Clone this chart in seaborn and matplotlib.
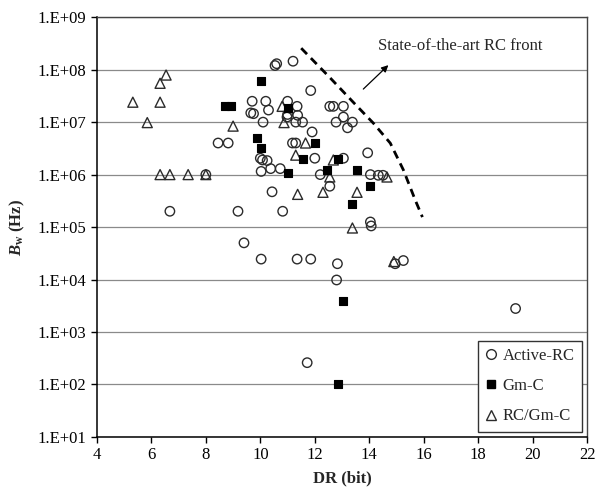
"""
Bandwidth vs dynamic range of continuous-time filters (Active-RC, Gm-C, RC/Gm-C)
"""

import matplotlib
matplotlib.use("Agg")
import matplotlib.pyplot as plt
import seaborn as sns
import numpy as np
from matplotlib.ticker import FuncFormatter, LogLocator, NullLocator
from matplotlib.lines import Line2D

# Active-RC (open circles)
arc_dr = [10.54, 10.6, 11.2, 11.85, 9.7, 10.2, 11.0, 11.35, 9.65, 9.75, 10.3, 11.0,
          10.98, 11.37, 10.1, 11.3, 11.55, 12.55, 12.68, 13.05, 12.78, 13.05, 13.38,
          13.2, 11.9, 8.45, 8.82, 11.18, 11.3, 10.0, 10.08, 10.25, 10.03, 10.38, 10.73,
          8.0, 10.43, 6.68, 9.18, 10.82, 12.0, 13.05, 13.94, 12.2, 12.55, 14.04, 14.33,
          14.5, 14.04, 14.07, 9.4, 10.03, 11.35, 11.85, 12.83, 12.8, 11.72, 14.95, 15.25,
          19.37]
arc_bw = [1.2e8, 1.3e8, 1.45e8, 4e7, 2.5e7, 2.5e7, 2.5e7, 2e7, 1.5e7, 1.45e7, 1.7e7, 1.4e7,
          1.25e7, 1.35e7, 1e7, 1e7, 1e7, 2e7, 2e7, 2e7, 1e7, 1.25e7, 1e7,
          7.8e6, 6.5e6, 4e6, 4e6, 4e6, 4e6, 2.05e6, 1.9e6, 1.85e6, 1.15e6, 1.3e6, 1.3e6,
          1e6, 4.7e5, 2e5, 2e5, 2e5, 2.05e6, 2.05e6, 2.6e6, 1e6, 6e5, 1e6, 9.7e5,
          9.7e5, 1.25e5, 1.05e5, 5e4, 2.45e4, 2.45e4, 2.45e4, 2e4, 9.8e3, 2.6e2, 2e4, 2.3e4,
          2.8e3]

# Gm-C (filled squares)
gmc_dr = [10.03, 8.7, 8.92, 11.0, 9.88, 10.03, 12.0, 11.55, 12.85, 11.0, 12.46, 13.54,
          14.04, 13.38, 13.05, 12.85]
gmc_bw = [6e7, 2e7, 2e7, 1.9e7, 5e6, 3.2e6, 4e6, 2e6, 2e6, 1.05e6, 1.2e6, 1.2e6,
          6e5, 2.7e5, 3.9e3, 1e2]

# RC/Gm-C (open triangles)
rcg_dr = [5.32, 6.32, 6.54, 6.32, 5.85, 9.0, 6.32, 6.68, 7.35, 8.0, 10.8, 10.87, 11.66,
          11.3, 12.68, 11.37, 12.3, 13.55, 12.55, 14.65, 13.38, 14.9]
rcg_bw = [2.4e7, 2.4e7, 7.9e7, 5.5e7, 9.8e6, 8.4e6, 1e6, 1e6, 1e6, 1e6, 2e7, 9.8e6, 4e6,
          2.35e6, 1.9e6, 4.2e5, 4.6e5, 4.6e5, 9e5, 9e5, 9.6e4, 2.2e4]

# state-of-the-art front (dashed)
front_dr = [11.5, 12.57, 13.41, 14.15, 14.77, 15.25, 15.69, 15.95]
front_bw = [10**8.41, 10**7.84, 10**7.38, 10**6.98, 10**6.60, 10**6.09, 10**5.51, 10**5.19]

sns.set_style("white")
plt.rcParams["font.family"] = ["Liberation Serif", "DejaVu Serif"]
plt.rcParams["mathtext.fontset"] = "custom"
plt.rcParams["mathtext.rm"] = "Liberation Serif"
plt.rcParams["mathtext.it"] = "Liberation Serif:italic"
plt.rcParams["mathtext.bf"] = "Liberation Serif:bold"
plt.rcParams["mathtext.bfit"] = "Liberation Serif:italic:bold"

fig, ax = plt.subplots(figsize=(5.98, 4.92), dpi=100)
fig.subplots_adjust(left=0.162, right=0.982, top=0.965, bottom=0.112)

edge = "#2b2b2b"
sns.scatterplot(x=arc_dr, y=arc_bw, marker="o", s=46, color="white", edgecolor=edge,
                linewidth=1.0, ax=ax, zorder=3)
ax.collections[-1].set_facecolor("none")
sns.scatterplot(x=rcg_dr, y=rcg_bw, marker="^", s=52, color="white", edgecolor=edge,
                linewidth=1.0, ax=ax, zorder=3)
ax.collections[-1].set_facecolor("none")
sns.scatterplot(x=gmc_dr, y=gmc_bw, marker="s", s=36, color="black", edgecolor="black",
                linewidth=0.8, ax=ax, zorder=4)

sns.lineplot(x=front_dr, y=front_bw, sort=False, estimator=None, color="black",
             linewidth=2.0, linestyle=(0, (3, 2)), ax=ax, zorder=2)

ax.annotate("", xy=(14.70, 1.22e8), xytext=(13.78, 4.27e7),
            arrowprops=dict(arrowstyle="-|>", color="black", lw=0.9,
                            mutation_scale=10, shrinkA=0, shrinkB=0))
ax.text(14.33, 10**8.45, "State-of-the-art RC front", fontsize=12, va="center")

ax.set_yscale("log")
ax.set_ylim(1e1, 1e9)
ax.set_xlim(4, 22)
ax.set_xticks(np.arange(4, 23, 2))
ax.yaxis.set_major_locator(LogLocator(base=10, numticks=20))
ax.yaxis.set_minor_locator(NullLocator())
ax.yaxis.set_major_formatter(FuncFormatter(lambda v, p: f"1.E+{int(round(np.log10(v))):02d}"))

ax.grid(axis="y", color="#8a8a8a", linewidth=0.9)
ax.grid(axis="x", visible=False)
for side in ["left", "bottom"]:
    ax.spines[side].set_color("black")
    ax.spines[side].set_linewidth(1.1)
for side in ["top", "right"]:
    ax.spines[side].set_color("#444444")
    ax.spines[side].set_linewidth(1.0)

ax.tick_params(axis="both", direction="out", length=4, width=1, colors="black",
               labelsize=12, left=True, bottom=True)

ax.set_xlabel("DR (bit)", fontsize=12, fontweight="bold", labelpad=5)
ax.set_ylabel(r"$\mathbfit{B}_\mathbf{w}$ (Hz)", fontsize=12, fontweight="bold")
ax.yaxis.set_label_coords(-0.143, 0.5)

handles = [
    Line2D([], [], marker="o", linestyle="none", markerfacecolor="none",
           markeredgecolor=edge, markersize=7, markeredgewidth=1.0),
    Line2D([], [], marker="s", linestyle="none", markerfacecolor="black",
           markeredgecolor="black", markersize=6),
    Line2D([], [], marker="^", linestyle="none", markerfacecolor="none",
           markeredgecolor=edge, markersize=7.5, markeredgewidth=1.0),
]
leg = ax.legend(handles, ["Active-RC", "Gm-C", "RC/Gm-C"], loc="lower right",
                bbox_to_anchor=(0.99, 0.012), fontsize=12, frameon=True, fancybox=False,
                edgecolor="#333333", framealpha=1, labelspacing=0.85, handlelength=0.7,
                handletextpad=0.35, borderpad=0.45, borderaxespad=0)
leg.get_frame().set_linewidth(1.0)

plt.savefig("out.png", dpi=100)
